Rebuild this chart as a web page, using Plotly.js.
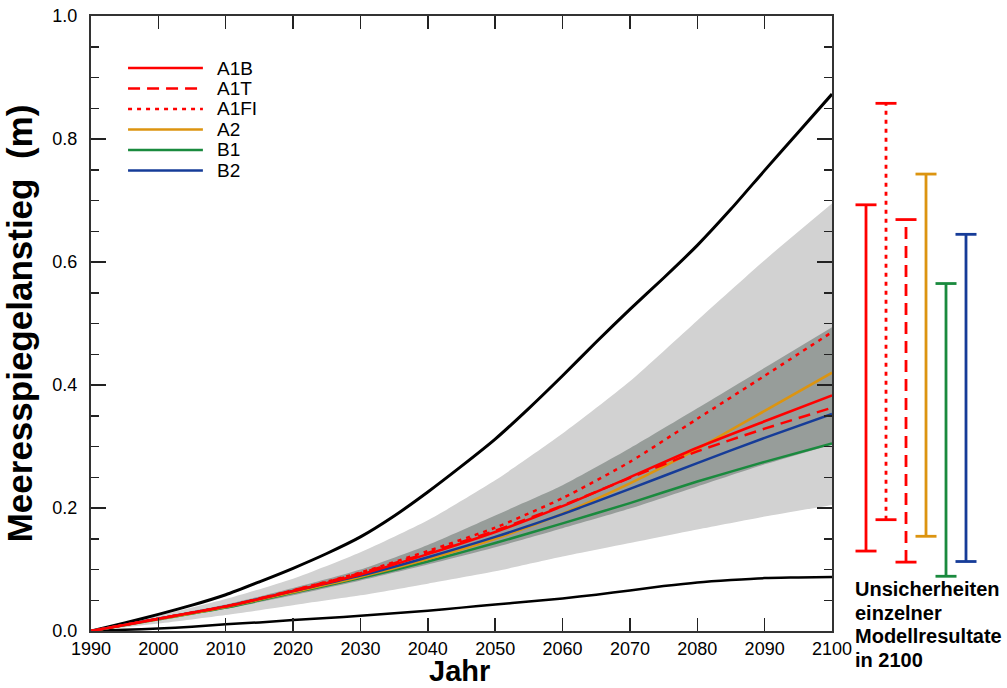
<!DOCTYPE html>
<html>
<head>
<meta charset="utf-8">
<script src="https://cdn.plot.ly/plotly-3.0.1.min.js"></script>
<style>
html,body{margin:0;padding:0;background:#fff;}
#chart{width:1007px;height:688px;}
</style>
</head>
<body>
<div id="chart"></div>
<script>
// ---------- data ----------
const years = [1990, 2000, 2010, 2020, 2030, 2040, 2050, 2060, 2070, 2080, 2090, 2100];
const envYears = [1990, 1995, 2000, 2005, 2010, 2015, 2020, 2025, 2030, 2035, 2040, 2045,
                  2050, 2055, 2060, 2065, 2070, 2075, 2080, 2085, 2090, 2095, 2100];

const upperEnvelope = [0, 0.013, 0.027, 0.042, 0.059, 0.080, 0.102, 0.126, 0.153, 0.187, 0.226, 0.268,
                       0.312, 0.362, 0.415, 0.470, 0.523, 0.574, 0.627, 0.686, 0.749, 0.811, 0.873];
const lowerEnvelope = [0, 0.002, 0.004, 0.007, 0.011, 0.014, 0.018, 0.021, 0.025, 0.029, 0.033, 0.038,
                       0.043, 0.048, 0.053, 0.059, 0.066, 0.073, 0.079, 0.083, 0.086, 0.087, 0.088];

const lightLow  = [0, 0.012, 0.026, 0.042, 0.058, 0.077, 0.097, 0.121, 0.143, 0.165, 0.186, 0.205];
const lightHigh = [0, 0.025, 0.052, 0.085, 0.128, 0.180, 0.245, 0.321, 0.406, 0.505, 0.603, 0.695];

const darkLow  = [0, 0.018, 0.036, 0.058, 0.082, 0.108, 0.136, 0.167, 0.199, 0.235, 0.271, 0.303];
const darkHigh = [0, 0.022, 0.043, 0.070, 0.100, 0.140, 0.188, 0.237, 0.297, 0.362, 0.428, 0.494];

const seriesNames = ['A1B', 'A1T', 'A1FI', 'A2', 'B1', 'B2'];
const a1b  = [0, 0.020, 0.040, 0.065, 0.092, 0.125, 0.161, 0.203, 0.250, 0.298, 0.341, 0.383];
const a1t  = [0, 0.020, 0.040, 0.066, 0.094, 0.127, 0.163, 0.204, 0.249, 0.292, 0.329, 0.363];
const a1fi = [0, 0.020, 0.040, 0.066, 0.095, 0.130, 0.168, 0.216, 0.275, 0.345, 0.415, 0.486];
const a2   = [0, 0.019, 0.039, 0.063, 0.088, 0.117, 0.150, 0.191, 0.240, 0.296, 0.358, 0.420];
const b1   = [0, 0.019, 0.038, 0.062, 0.086, 0.113, 0.143, 0.175, 0.208, 0.243, 0.275, 0.305];
const b2   = [0, 0.020, 0.040, 0.065, 0.090, 0.120, 0.153, 0.190, 0.231, 0.273, 0.314, 0.353];

// ranges of individual model results in 2100
const barNames = ['A1B', 'A1FI', 'A1T', 'A2', 'B1', 'B2'];
const barLow   = [0.130, 0.181, 0.112, 0.154, 0.089, 0.113];
const barHigh  = [0.693, 0.858, 0.669, 0.743, 0.565, 0.645];

const noteLines = ['Unsicherheiten', 'einzelner', 'Modellresultate', 'in 2100'];
const xTitle = 'Jahr';
const yTitle = 'Meeresspiegelanstieg  (m)';

// ---------- styles ----------
const FONT = 'Liberation Sans, Arial, Helvetica, sans-serif';
const style = {
  'A1B':  {color: '#ff0000', dash: 'solid'},
  'A1T':  {color: '#ff0000', dash: '12px,7px'},
  'A1FI': {color: '#ff0000', dash: '4px,5px'},
  'A2':   {color: '#dc9410', dash: 'solid'},
  'B1':   {color: '#1a8a3e', dash: 'solid'},
  'B2':   {color: '#163c98', dash: 'solid'}
};
const seriesData = {'A1B': a1b, 'A1T': a1t, 'A1FI': a1fi, 'A2': a2, 'B1': b1, 'B2': b2};

const traces = [];
const sp = {shape: 'spline', smoothing: 0.6};
// light band
traces.push({x: years, y: lightLow, mode: 'lines', line: Object.assign({width: 0}, sp), hoverinfo: 'skip', showlegend: false});
traces.push({x: years, y: lightHigh, mode: 'lines', line: Object.assign({width: 0}, sp), fill: 'tonexty', fillcolor: '#d2d2d2', hoverinfo: 'skip', showlegend: false});
// dark band
traces.push({x: years, y: darkLow, mode: 'lines', line: Object.assign({width: 0}, sp), hoverinfo: 'skip', showlegend: false});
traces.push({x: years, y: darkHigh, mode: 'lines', line: Object.assign({width: 0}, sp), fill: 'tonexty', fillcolor: '#979d9a', hoverinfo: 'skip', showlegend: false});
// envelopes
traces.push({x: envYears, y: upperEnvelope, mode: 'lines', line: Object.assign({color: '#000', width: 3}, sp), showlegend: false});
traces.push({x: envYears, y: lowerEnvelope, mode: 'lines', line: Object.assign({color: '#000', width: 2.5}, sp), showlegend: false});
// scenario lines (draw order so red is on top)
['B1', 'A2', 'B2', 'A1T', 'A1B', 'A1FI'].forEach(n => {
  traces.push({x: years, y: seriesData[n], name: n, mode: 'lines',
    line: Object.assign({color: style[n].color, width: 2.5, dash: style[n].dash}, sp), showlegend: false});
});
// uncertainty bars on second x axis
barNames.forEach((n, i) => {
  traces.push({x: [n, n], y: [barLow[i], barHigh[i]], xaxis: 'x2', yaxis: 'y', mode: 'lines+markers',
    line: {color: style[n].color, width: 2.8, dash: style[n].dash},
    marker: {symbol: 'line-ew', size: 15, line: {color: style[n].color, width: 2.8}},
    showlegend: false, hoverinfo: 'skip'});
});

// ---------- legend (custom) and texts ----------
const shapes = [];
const annotations = [];
seriesNames.forEach((n, i) => {
  const yy = 0.9154 - i * 0.0333;
  shapes.push({type: 'line', xref: 'x domain', yref: 'y domain', x0: 0.050, x1: 0.151, y0: yy, y1: yy,
    line: {color: style[n].color, width: 2.5, dash: style[n].dash}});
  annotations.push({xref: 'x domain', yref: 'y domain', x: 0.168, y: yy, xanchor: 'left', yanchor: 'middle',
    text: n, showarrow: false, font: {family: FONT, size: 19, color: '#000'}});
});
noteLines.forEach((t, i) => {
  const yc = 589 + i * 23.5;
  annotations.push({xref: 'paper', yref: 'paper', x: (853 - 91) / 911, y: (631 - yc) / 615,
    xanchor: 'left', yanchor: 'middle', text: t, showarrow: false,
    font: {family: FONT, size: 20, color: '#000', weight: 'bold'}});
});
// x axis title
annotations.push({xref: 'x domain', yref: 'paper', x: 0.497, y: (631 - 688) / 615,
  xanchor: 'center', yanchor: 'bottom', text: xTitle, showarrow: false, borderpad: 0,
  font: {family: FONT, size: 29, color: '#000', weight: 'bold'}});

const layout = {
  width: 1007, height: 688,
  margin: {l: 91, r: 5, t: 16, b: 57},
  paper_bgcolor: '#fff', plot_bgcolor: 'rgba(0,0,0,0)',
  font: {family: FONT, color: '#000'},
  showlegend: false,
  xaxis: {
    domain: [0, 0.8134], range: [1990, 2100], tick0: 1990, dtick: 10,
    ticks: 'inside', ticklen: 13, tickwidth: 1.5, tickcolor: '#222',
    showline: true, linewidth: 2, linecolor: '#333', mirror: 'ticks',
    showgrid: false, zeroline: false,
    tickfont: {family: FONT, size: 18, color: '#000'}, ticklabelstandoff: 0
  },
  yaxis: {
    range: [0, 1], tick0: 0, dtick: 0.2, tickformat: '.1f',
    ticks: 'inside', ticklen: 15, tickwidth: 1.5, tickcolor: '#222',
    minor: {dtick: 0.05, ticks: 'inside', ticklen: 8, tickwidth: 1.5, tickcolor: '#222', showgrid: false},
    showline: true, linewidth: 2, linecolor: '#333', mirror: 'ticks',
    showgrid: false, zeroline: false,
    tickfont: {family: FONT, size: 18, color: '#000'}, ticklabelstandoff: 8,
    title: {text: yTitle, font: {family: FONT, size: 35, color: '#000', weight: 'bold'}, standoff: 10}
  },
  xaxis2: {
    domain: [0.8134, 1], anchor: 'y', type: 'category', categoryorder: 'array', categoryarray: barNames,
    range: [-1.7, 6.8], visible: false, showgrid: false, zeroline: false
  },
  shapes: shapes,
  annotations: annotations
};

Plotly.newPlot('chart', traces, layout, {displayModeBar: false, staticPlot: true});
</script>
</body>
</html>
